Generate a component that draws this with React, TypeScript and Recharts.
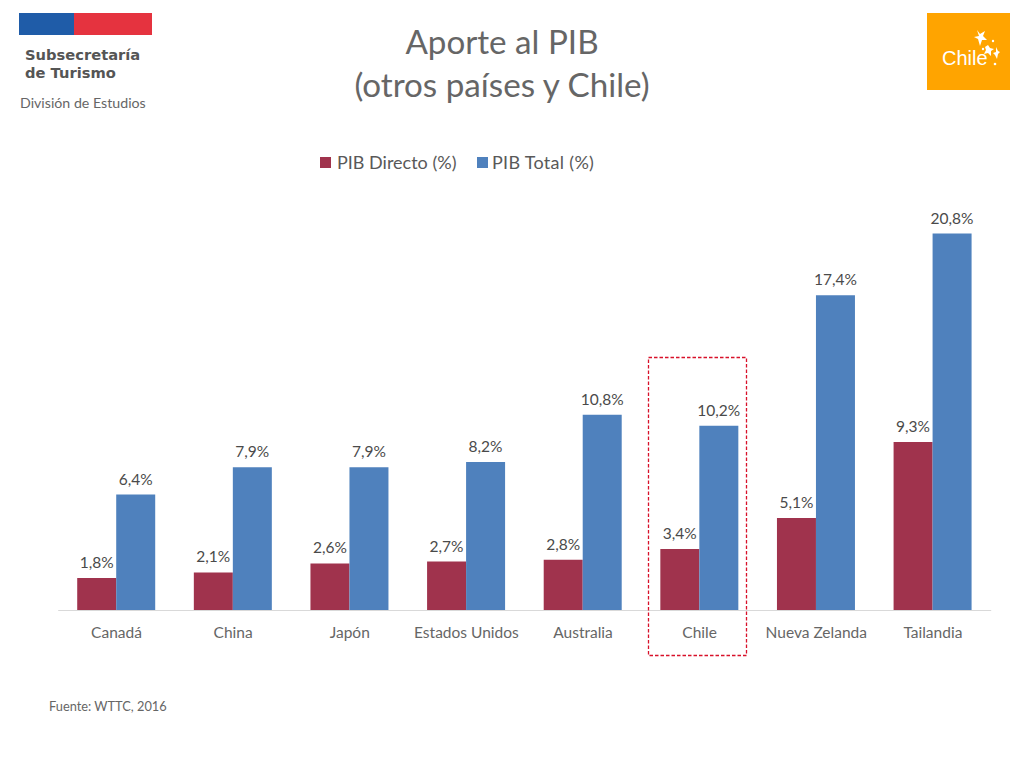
import React from "react";
import { BarChart, Bar, XAxis, YAxis, Legend, LabelList } from "recharts";

const categories = ["Canadá", "China", "Japón", "Estados Unidos", "Australia", "Chile", "Nueva Zelanda", "Tailandia"];
const pibDirecto = [1.8, 2.1, 2.6, 2.7, 2.8, 3.4, 5.1, 9.3];
const pibTotal = [6.4, 7.9, 7.9, 8.2, 10.8, 10.2, 17.4, 20.8];
const data = categories.map((c, i) => ({ c, d: pibDirecto[i], t: pibTotal[i] }));

const FONT = "Lato, Carlito, sans-serif";
const fmt = (v: any) => `${Number(v).toFixed(1).replace(".", ",")}%`;
const abs = (l: number, t: number, extra: React.CSSProperties = {}): React.CSSProperties => ({
  position: "absolute", left: l, top: t, fontFamily: FONT, whiteSpace: "nowrap", ...extra,
});

const LegendContent = ({ payload }: any) => (
  <div style={{ position: "relative", height: 24, fontFamily: FONT, fontSize: 18, color: "#595959" }}>
    {(payload || []).map((p: any, i: number) => (
      <React.Fragment key={p.value}>
        <span style={{ position: "absolute", left: i === 0 ? 5 : 162, top: 6, width: 11, height: 11, background: p.color }} />
        <span style={{ position: "absolute", left: i === 0 ? 22 : 177, top: 0, whiteSpace: "nowrap", letterSpacing: i === 0 ? 0 : 0.3 }}>{p.value}</span>
      </React.Fragment>
    ))}
  </div>
);

export default function App() {
  return (
    <div style={{ position: "absolute", left: 0, top: 0, width: 1024, height: 768, background: "#fff", overflow: "hidden" }}>
      <BarChart width={1024} height={768} data={data} barGap={0} barCategoryGap="16.3%"
        margin={{ top: 187.75, right: 32.8, bottom: 117.5, left: 58.2 }}>
        <XAxis dataKey="c" height={40} interval={0} tickLine={false} axisLine={{ stroke: "#d9d9d9" }}
          tick={{ fill: "#666666", fontSize: 15.5, fontFamily: FONT }} tickMargin={10} />
        <YAxis hide domain={[0, 22]} />
        <Legend verticalAlign="top" content={<LegendContent />}
          wrapperStyle={{ position: "absolute", top: 151, left: 315, width: 290 }} />
        <Bar dataKey="d" name="PIB Directo (%)" fill="#a0334d" isAnimationActive={false}>
          <LabelList dataKey="d" position="top" offset={10} formatter={fmt} style={{ fill: "#4a4a4a", fontSize: 15.5, fontFamily: FONT }} />
        </Bar>
        <Bar dataKey="t" name="PIB Total (%)" fill="#4f81bd" isAnimationActive={false}>
          <LabelList dataKey="t" position="top" offset={10} formatter={fmt} style={{ fill: "#4a4a4a", fontSize: 15.5, fontFamily: FONT }} />
        </Bar>
      </BarChart>

      <div style={abs(352, 20, { width: 300, textAlign: "center", fontSize: 33.2, lineHeight: "43px", color: "#666666" })}>
        Aporte al PIB<br />(otros países y Chile)
      </div>

      <div style={abs(19, 13, { width: 55, height: 22, background: "#1f5ca8" })} />
      <div style={abs(74, 13, { width: 78, height: 22, background: "#e5333f" })} />
      <div style={{ ...abs(25, 46), fontFamily: "'DejaVu Sans', sans-serif", fontWeight: 700, fontSize: 14.7, lineHeight: "18px", color: "#555" }}>
        Subsecretaría<br />de Turismo
      </div>
      <div style={abs(20, 94, { fontSize: 14.2, color: "#666666" })}>División de Estudios</div>

      <div style={abs(927, 13, { width: 83, height: 77, background: "#ffa400" })} />
      <div style={{ ...abs(942, 47), fontFamily: "'Liberation Sans', sans-serif", fontSize: 20, color: "#fff" }}>Chile</div>
      <svg style={{ position: "absolute", left: 927, top: 13 }} width={83} height={77}>
        <g fill="#fff">
          <polygon points="50,17 53,21 58,18 56,23 60,27 55,27 53,33 51,26 47,24 52,23" />
          <polygon points="61,32 63,35 67,36 64,38 64,43 61,40 57,41 59,37 58,34" />
          <polygon points="69,34 71,38 73,39 71,41 70,46 68,42 66,40 69,39" />
          <circle cx="56" cy="36" r="1.2" /><circle cx="66" cy="28" r="1.2" /><circle cx="68" cy="51" r="1.3" />
        </g>
      </svg>

      <svg style={{ position: "absolute", left: 0, top: 0, pointerEvents: "none" }} width={1024} height={768}>
        <rect x={648.5} y={357.5} width={98} height={298} fill="none" stroke="#d8112a" strokeWidth={1.3} strokeDasharray="3.5 2" />
      </svg>

      <div style={abs(49, 698, { fontSize: 12.8, color: "#666666" })}>Fuente: WTTC, 2016</div>
    </div>
  );
}
